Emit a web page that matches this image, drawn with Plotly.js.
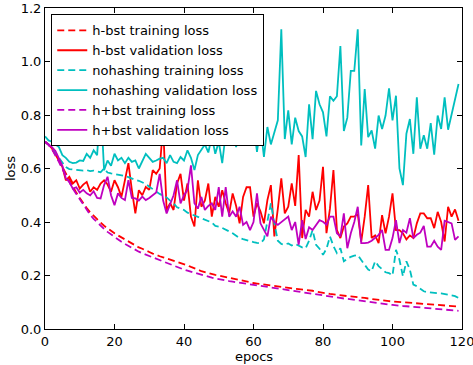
<!DOCTYPE html>
<html>
<head>
<meta charset="utf-8">
<script src="https://cdn.plot.ly/plotly-3.0.1.min.js"></script>
<style>html,body{margin:0;padding:0;background:#fff;}#chart{width:473px;height:365px;}</style>
</head>
<body>
<div id="chart"></div>
<script>
const epochs = [0,1,2,3,4,5,6,7,8,9,10,11,12,13,14,15,16,17,18,19,20,21,22,23,24,25,26,27,28,29,30,31,32,33,34,35,36,37,38,39,40,41,42,43,44,45,46,47,48,49,50,51,52,53,54,55,56,57,58,59,60,61,62,63,64,65,66,67,68,69,70,71,72,73,74,75,76,77,78,79,80,81,82,83,84,85,86,87,88,89,90,91,92,93,94,95,96,97,98,99,100,101,102,103,104,105,106,107,108,109,110,111,112,113,114,115,116,117,118,119];

const hbstTrain = [0.700,0.690,0.675,0.655,0.630,0.605,0.580,0.555,0.530,0.510,
0.490,0.470,0.452,0.436,0.422,0.410,0.398,0.386,0.376,0.366,
0.358,0.350,0.342,0.334,0.326,0.318,0.312,0.305,0.300,0.295,
0.288,0.282,0.276,0.272,0.268,0.264,0.258,0.254,0.250,0.246,
0.242,0.238,0.232,0.228,0.222,0.216,0.212,0.208,0.204,0.202,
0.200,0.197,0.194,0.191,0.188,0.186,0.183,0.180,0.177,0.174,
0.172,0.170,0.168,0.166,0.164,0.162,0.160,0.158,0.156,0.154,
0.152,0.151,0.150,0.149,0.148,0.147,0.146,0.143,0.140,0.137,
0.135,0.133,0.131,0.129,0.127,0.126,0.124,0.123,0.122,0.121,
0.120,0.118,0.116,0.114,0.112,0.110,0.108,0.106,0.105,0.104,
0.103,0.102,0.101,0.100,0.099,0.098,0.097,0.096,0.095,0.094,
0.093,0.092,0.091,0.090,0.089,0.088,0.087,0.086,0.085,0.084];

const hbstVal = [0.700,0.690,0.675,0.655,0.630,0.606,0.556,0.569,0.544,0.556,
0.525,0.540,0.550,0.513,0.530,0.520,0.544,0.556,0.540,0.513,
0.556,0.530,0.494,0.556,0.620,0.519,0.432,0.519,0.500,0.531,
0.520,0.594,0.580,0.600,0.760,0.445,0.470,0.445,0.544,0.580,
0.480,0.544,0.420,0.383,0.556,0.457,0.480,0.544,0.420,0.494,
0.457,0.519,0.470,0.432,0.507,0.460,0.395,0.494,0.530,0.530,
0.420,0.470,0.440,0.395,0.482,0.538,0.346,0.450,0.563,0.432,
0.457,0.544,0.460,0.650,0.340,0.445,0.420,0.513,0.445,0.480,
0.606,0.358,0.450,0.594,0.370,0.340,0.383,0.395,0.420,0.420,
0.430,0.327,0.420,0.538,0.340,0.350,0.321,0.426,0.358,0.420,
0.507,0.370,0.370,0.358,0.335,0.350,0.340,0.395,0.432,0.432,
0.414,0.414,0.377,0.438,0.400,0.327,0.457,0.420,0.447,0.405];

const noHashTrain = [0.700,0.690,0.675,0.660,0.640,0.620,0.605,0.598,0.596,0.594,
0.593,0.592,0.594,0.590,0.592,0.588,0.586,0.600,0.585,0.582,
0.580,0.578,0.575,0.572,0.568,0.562,0.557,0.554,0.548,0.542,
0.532,0.522,0.515,0.505,0.498,0.492,0.480,0.470,0.455,0.450,
0.445,0.435,0.430,0.425,0.418,0.414,0.410,0.405,0.398,0.385,
0.383,0.378,0.370,0.365,0.358,0.350,0.340,0.336,0.332,0.327,
0.325,0.322,0.320,0.335,0.400,0.470,0.395,0.330,0.318,0.315,
0.320,0.312,0.318,0.310,0.305,0.302,0.330,0.370,0.315,0.300,
0.277,0.300,0.346,0.310,0.284,0.302,0.253,0.262,0.270,0.274,
0.277,0.258,0.240,0.222,0.216,0.253,0.235,0.222,0.212,0.209,
0.200,0.296,0.259,0.197,0.253,0.222,0.166,0.160,0.150,0.141,
0.138,0.136,0.135,0.134,0.133,0.131,0.129,0.126,0.123,0.116];

const noHashVal = [0.720,0.705,0.700,0.690,0.680,0.650,0.640,0.625,0.620,0.622,
0.630,0.628,0.655,0.640,0.668,0.650,0.850,0.594,0.630,0.610,
0.655,0.630,0.640,0.620,0.640,0.625,0.630,0.600,0.625,0.655,
0.640,0.625,0.630,0.637,0.640,0.620,0.650,0.625,0.620,0.643,
0.630,0.668,0.640,0.594,0.650,0.670,0.690,0.660,0.720,0.655,
0.700,0.620,0.730,0.700,0.760,0.680,0.750,0.700,0.780,0.720,
0.770,0.662,0.760,0.643,0.755,0.690,0.740,0.780,1.120,0.710,
0.817,0.690,0.790,0.740,0.720,0.643,0.840,0.710,0.890,0.840,
0.810,0.720,0.870,0.853,0.870,1.058,0.740,0.790,0.965,0.965,
1.120,0.686,0.897,0.717,0.742,0.674,0.798,0.748,0.798,0.900,
0.780,0.872,0.600,0.538,0.730,0.785,0.655,0.866,0.674,0.724,
0.674,0.770,0.652,0.798,0.748,0.866,0.745,0.800,0.860,0.916];

const hpbstTrain = [0.700,0.688,0.672,0.650,0.625,0.598,0.572,0.548,0.525,0.505,
0.485,0.463,0.443,0.427,0.412,0.398,0.386,0.374,0.363,0.353,
0.344,0.335,0.326,0.318,0.310,0.302,0.296,0.289,0.283,0.278,
0.272,0.266,0.260,0.255,0.250,0.246,0.241,0.236,0.231,0.226,
0.222,0.218,0.214,0.210,0.206,0.202,0.198,0.195,0.192,0.189,
0.186,0.184,0.181,0.179,0.177,0.175,0.173,0.171,0.169,0.167,
0.165,0.163,0.161,0.159,0.157,0.155,0.153,0.151,0.149,0.147,
0.145,0.143,0.141,0.139,0.137,0.135,0.133,0.131,0.128,0.126,
0.124,0.122,0.120,0.118,0.117,0.116,0.114,0.113,0.111,0.110,
0.108,0.106,0.104,0.102,0.100,0.098,0.096,0.094,0.093,0.091,
0.090,0.088,0.087,0.086,0.085,0.084,0.083,0.081,0.080,0.079,
0.078,0.077,0.076,0.075,0.074,0.073,0.072,0.071,0.070,0.068];

const hpbstVal = [0.700,0.690,0.680,0.665,0.640,0.610,0.563,0.550,0.525,0.530,
0.510,0.520,0.507,0.500,0.515,0.490,0.488,0.538,0.569,0.500,
0.463,0.507,0.490,0.482,0.556,0.490,0.488,0.480,0.495,0.482,
0.490,0.500,0.510,0.580,0.480,0.432,0.470,0.500,0.556,0.470,
0.500,0.520,0.612,0.470,0.450,0.494,0.445,0.460,0.470,0.445,
0.530,0.420,0.530,0.420,0.440,0.420,0.457,0.389,0.400,0.370,
0.400,0.507,0.395,0.370,0.346,0.420,0.400,0.389,0.400,0.410,
0.420,0.370,0.400,0.315,0.407,0.336,0.380,0.370,0.390,0.407,
0.401,0.390,0.420,0.420,0.358,0.346,0.432,0.302,0.358,0.400,
0.457,0.321,0.321,0.323,0.330,0.340,0.352,0.370,0.296,0.296,
0.340,0.407,0.321,0.370,0.360,0.414,0.340,0.352,0.360,0.385,
0.308,0.308,0.330,0.308,0.296,0.405,0.401,0.395,0.333,0.346];

const names = ["h-bst training loss","h-bst validation loss","nohashing training loss","nohashing validation loss","h+bst training loss","h+bst validation loss"];
const RED = "#ff0000", CYAN = "#00bfbf", MAG = "#bf00bf";
const DASH = "7px,4px";
const LW = 1.8;

function tr(y, name, color, dashed) {
  return {x: epochs, y: y, name: name, type: "scatter", mode: "lines",
    line: {color: color, width: LW, dash: dashed ? DASH : "solid"}};
}

const data = [
  tr(hbstTrain, names[0], RED, true),
  tr(hbstVal, names[1], RED, false),
  tr(noHashTrain, names[2], CYAN, true),
  tr(noHashVal, names[3], CYAN, false),
  tr(hpbstTrain, names[4], MAG, true),
  tr(hpbstVal, names[5], MAG, false)
];

const axisCommon = {
  showline: true, linecolor: "#000", linewidth: 1, mirror: "ticks",
  ticks: "inside", ticklen: 5, tickcolor: "#000", tickwidth: 1,
  showgrid: false, zeroline: false, ticklabeloverflow: "allow",
  tickfont: {family: "DejaVu Sans", size: 13, color: "#000"}
};

const MT = 8, MB = 36, H = 365;
const layout = {
  width: 473, height: H,
  margin: {l: 45, r: 11, t: MT, b: MB},
  paper_bgcolor: "#fff", plot_bgcolor: "#fff",
  font: {family: "DejaVu Sans", size: 13, color: "#000"},
  showlegend: true,
  xaxis: Object.assign({}, axisCommon, {range: [0, 120], dtick: 20, tick0: 0}),
  yaxis: Object.assign({}, axisCommon, {range: [0, 1.2], dtick: 0.2, tick0: 0, tickformat: ".1f",
    title: {text: "loss", font: {family: "DejaVu Sans", size: 13}, standoff: 2}}),
  annotations: [{text: "epocs", xref: "paper", yref: "paper", x: 0.5,
    y: -MB / (H - MT - MB),
    xanchor: "center", yanchor: "bottom", yshift: 0, borderpad: 0, showarrow: false,
    font: {family: "DejaVu Sans", size: 13, color: "#000"}}],
  legend: {x: 0.015, y: 0.98, xanchor: "left", yanchor: "top",
    bgcolor: "#fff", bordercolor: "#000", borderwidth: 1,
    font: {family: "DejaVu Sans", size: 13, color: "#000"}}
};

Plotly.newPlot("chart", data, layout, {staticPlot: true, displayModeBar: false});
</script>
</body>
</html>
